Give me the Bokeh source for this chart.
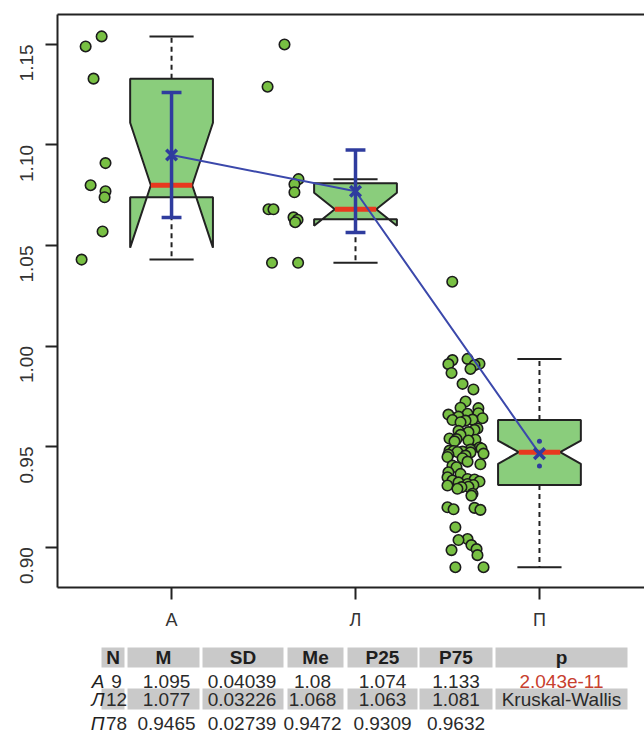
import math

from bokeh.core.properties import value
from bokeh.embed import file_html
from bokeh.layouts import column
from bokeh.models import FixedTicker, LinearAxis, PrintfTickFormatter, Range1d
from bokeh.plotting import figure
from bokeh.resources import INLINE

# ---- summary statistics per group ----
groups = ["А", "Л", "П"]
n_obs = [9, 12, 78]
mean_vals = [1.095, 1.077, 0.9465]
sd_vals = [0.04039, 0.03226, 0.02739]
median_vals = [1.08, 1.068, 0.9472]
p25_vals = [1.074, 1.063, 0.9309]
p75_vals = [1.133, 1.081, 0.9632]
t_crit = [2.306, 2.201, 1.991]  # two-sided 95% Student quantiles, df = n - 1
p_value = "2.043e-11"
test_name = "Kruskal-Wallis"

y_ticks = [0.90, 0.95, 1.00, 1.05, 1.10, 1.15]

# ---- individual observations (value, horizontal jitter) ----
a_vals = [1.154, 1.149, 1.133, 1.091, 1.080, 1.077, 1.074, 1.057, 1.043]
a_jit = [-0.380, -0.467, -0.424, -0.359, -0.440, -0.359, -0.364, -0.375, -0.489]

l_vals = [1.150, 1.129, 1.083, 1.0805, 1.0765, 1.068, 1.068, 1.064, 1.0628,
          1.0616, 1.0414, 1.0414]
l_jit = [-0.386, -0.478, -0.310, -0.332, -0.332, -0.473, -0.446, -0.337, -0.315,
         -0.328, -0.454, -0.312]

p_vals = [1.032,
          0.9936, 0.9930, 0.9912, 0.9910, 0.9905, 0.9886, 0.9866,
          0.9812, 0.9784,
          0.9724, 0.9693, 0.9691,
          0.9666, 0.9663, 0.9659, 0.9649, 0.9641, 0.9634, 0.9632,
          0.9629, 0.9621,
          0.9590, 0.9583, 0.9578, 0.9572, 0.9558, 0.9540, 0.9537, 0.9534, 0.9530, 0.9526,
          0.9495, 0.9490, 0.9485, 0.9480, 0.9478, 0.9475, 0.9473, 0.9471, 0.9465, 0.9460, 0.9455,
          0.9448, 0.9442, 0.9425, 0.9412, 0.9405,
          0.9397, 0.9372, 0.9364, 0.9347, 0.9339, 0.9336, 0.9331, 0.9326, 0.9322, 0.9314,
          0.9309, 0.9306, 0.9300, 0.9298, 0.9290, 0.9265, 0.9256,
          0.9198, 0.9195, 0.9188, 0.9185,
          0.9099,
          0.9040, 0.9035, 0.9010, 0.8990, 0.8985, 0.8960,
          0.8900, 0.8900]
p_jit = [-0.474,
         -0.391, -0.473, -0.326, -0.495, -0.353, -0.375, -0.478,
         -0.418, -0.359,
         -0.402, -0.429, -0.332,
         -0.332, -0.391, -0.495, -0.440, -0.310, -0.364, -0.473,
         -0.402, -0.429,
         -0.337, -0.353, -0.440, -0.386, -0.429, -0.489, -0.451, -0.348, -0.386, -0.462,
         -0.326, -0.315, -0.375, -0.489, -0.467, -0.418, -0.446, -0.375, -0.304, -0.495, -0.402,
         -0.500, -0.418, -0.391, -0.321, -0.473,
         -0.451, -0.495, -0.429, -0.500, -0.391, -0.353, -0.473, -0.326, -0.440, -0.391,
         -0.359, -0.500, -0.386, -0.424, -0.446, -0.364, -0.370,
         -0.500, -0.353, -0.467, -0.321,
         -0.457,
         -0.391, -0.440, -0.370, -0.342, -0.478, -0.337,
         -0.457, -0.304]

observations = [(a_vals, a_jit), (l_vals, l_jit), (p_vals, p_jit)]

# ---- styling ----
FONT = "Liberation Sans"
INK = "#222222"
BOX_FILL = "#8acd7c"
POINT_FILL = "#78c043"
MEDIAN_RED = "#e8391f"
BLUE = "#2f3c9e"
LINE_BLUE = "#3b48ab"
HALF_BOX = 0.225
HALF_CAP = 0.12
HALF_ERR_CAP = 0.054

p = figure(width=644, height=635,
           x_range=Range1d(0.38, 3.571), y_range=Range1d(0.8799, 1.1649),
           output_backend="svg", toolbar_location=None,
           x_axis_location=None, y_axis_location=None,
           min_border_left=57, min_border_right=0,
           min_border_top=14, min_border_bottom=48)
p.grid.visible = False
p.outline_line_color = None
p.background_fill_color = "white"
p.border_fill_color = "white"

# left axis
ya = LinearAxis(ticker=FixedTicker(ticks=y_ticks),
                formatter=PrintfTickFormatter(format="%.2f"))
ya.axis_line_color = INK
ya.axis_line_width = 2
ya.major_tick_line_color = INK
ya.major_tick_line_width = 2
ya.major_tick_out = 12
ya.major_tick_in = 0
ya.minor_tick_line_color = None
ya.major_label_orientation = math.pi / 2
ya.major_label_text_font = FONT
ya.major_label_text_font_size = "19px"
ya.major_label_text_color = "#333333"
ya.major_label_standoff = 19
p.add_layout(ya, "left")

# bottom axis with group names
xa = LinearAxis(ticker=FixedTicker(ticks=[1, 2, 3]),
                major_label_overrides={i + 1: g for i, g in enumerate(groups)})
xa.axis_line_color = INK
xa.axis_line_width = 2
xa.major_tick_line_color = INK
xa.major_tick_line_width = 2
xa.major_tick_out = 12
xa.major_tick_in = 0
xa.minor_tick_line_color = None
xa.major_label_text_font = FONT
xa.major_label_text_font_size = "18px"
xa.major_label_text_color = "#333333"
xa.major_label_standoff = 10
p.add_layout(xa, "below")

# top frame line
ta = LinearAxis(ticker=FixedTicker(ticks=[]))
ta.axis_line_color = INK
ta.axis_line_width = 2
ta.major_tick_line_color = None
ta.minor_tick_line_color = None
ta.major_label_text_font_size = "0px"
p.add_layout(ta, "above")

# jittered observations
for i, (vals, jit) in enumerate(observations):
    p.scatter([i + 1 + j for j in jit], vals, size=10.5, fill_color=POINT_FILL,
              line_color="#1c1c1c", line_width=1.6)

# notched boxes with whiskers
box_xs, box_ys = [], []
wx0, wx1, wy0, wy1 = [], [], [], []
cx0, cx1, cy = [], [], []
mx0, mx1, my = [], [], []
for i, (vals, _) in enumerate(observations):
    x = i + 1
    q1, q3, me, n = p25_vals[i], p75_vals[i], median_vals[i], n_obs[i]
    iqr = q3 - q1
    notch = 1.58 * iqr / math.sqrt(n)
    lo, hi = me - notch, me + notch
    hw, nw = HALF_BOX, HALF_BOX / 2
    box_xs.append([x - hw, x + hw, x + hw, x + nw, x + hw, x + hw, x - hw, x - hw, x - nw, x - hw])
    box_ys.append([q1, q1, lo, me, hi, q3, q3, hi, me, lo])
    w_hi = max(v for v in vals if v <= q3 + 1.5 * iqr)
    w_lo = min(v for v in vals if v >= q1 - 1.5 * iqr)
    wx0 += [x, x]; wx1 += [x, x]
    wy0 += [q3, q1]; wy1 += [w_hi, w_lo]
    cx0 += [x - HALF_CAP, x - HALF_CAP]; cx1 += [x + HALF_CAP, x + HALF_CAP]
    cy += [w_hi, w_lo]
    mx0.append(x - nw); mx1.append(x + nw); my.append(me)

p.segment(wx0, wy0, wx1, wy1, line_color=INK, line_width=2, line_dash="5 4")
p.patches(box_xs, box_ys, fill_color=BOX_FILL, line_color=INK, line_width=2)
p.segment(cx0, cy, cx1, cy, line_color=INK, line_width=2)
p.segment(mx0, my, mx1, my, line_color=MEDIAN_RED, line_width=5)

# means joined by a line, with 95% confidence intervals
xs = [1, 2, 3]
p.line(xs, mean_vals, line_color=LINE_BLUE, line_width=2)
ex, elo, ehi = [], [], []
dot_x, dot_y = [], []
for i in range(3):
    half = t_crit[i] * sd_vals[i] / math.sqrt(n_obs[i])
    lo, hi = mean_vals[i] - half, mean_vals[i] + half
    if half > 0.01:
        ex.append(i + 1); elo.append(lo); ehi.append(hi)
    else:
        dot_x += [i + 1, i + 1]; dot_y += [lo, hi]
p.segment(ex, elo, ex, ehi, line_color=BLUE, line_width=3.5)
p.segment([x - HALF_ERR_CAP for x in ex], ehi, [x + HALF_ERR_CAP for x in ex], ehi,
          line_color=BLUE, line_width=3.5)
p.segment([x - HALF_ERR_CAP for x in ex], elo, [x + HALF_ERR_CAP for x in ex], elo,
          line_color=BLUE, line_width=3.5)
p.scatter(dot_x, dot_y, size=5, fill_color=BLUE, line_color=None)
p.scatter(xs, mean_vals, marker="x", size=15, line_color=BLUE, line_width=3.5)

# ---- summary table (coordinates in page pixels; frame aligned with the plot above) ----
t = figure(width=644, height=107, x_range=Range1d(57, 644), y_range=Range1d(107, 0),
           output_backend="svg", toolbar_location=None,
           x_axis_location=None, y_axis_location=None,
           min_border_left=57, min_border_right=0, min_border_top=0, min_border_bottom=0)
t.grid.visible = False
t.outline_line_color = None

headers = ["N", "M", "SD", "Me", "P25", "P75", "p"]
col_left = [101, 127, 202, 287, 347, 419, 495]
col_right = [124, 199, 283, 343, 417, 492, 627]
col_mid = [(a + b) / 2 for a, b in zip(col_left, col_right)]
val_mid = [116, 166, 241.5, 312, 382, 455.5, 561]
GRAY = "#c9c9c9"
TSIZE = "19px"

t.quad(left=col_left, right=col_right, top=[12] * 7, bottom=[32] * 7,
       fill_color=GRAY, line_color=None)
t.quad(left=col_left, right=col_right, top=[53] * 7, bottom=[74] * 7,
       fill_color=GRAY, line_color=None)

row_y = [46, 63.5, 88]
t.text(col_mid, [22] * 7, text=headers, text_align="center", text_baseline="middle",
       text_font=value(FONT), text_font_size=TSIZE, text_font_style="bold",
       text_color="#1e1e1e")
t.text([104] * 3, row_y, text=groups, text_align="right", text_baseline="middle",
       text_font=value(FONT), text_font_size=TSIZE, text_font_style="italic",
       text_color="#1e1e1e")

fmt = lambda v: "{:.4g}".format(v)
cells_x, cells_y, cells_t = [], [], []
for r in range(3):
    row = [str(n_obs[r]), fmt(mean_vals[r]), fmt(sd_vals[r]), fmt(median_vals[r]),
           fmt(p25_vals[r]), fmt(p75_vals[r])]
    for c, s in enumerate(row):
        cells_x.append(val_mid[c]); cells_y.append(row_y[r]); cells_t.append(s)
t.text(cells_x, cells_y, text=cells_t, text_align="center", text_baseline="middle",
       text_font=value(FONT), text_font_size=TSIZE, text_color="#2a2a2a")
t.text([val_mid[6]], [row_y[0]], text=[p_value], text_align="center", text_baseline="middle",
       text_font=value(FONT), text_font_size=TSIZE, text_color="#c8402e")
t.text([val_mid[6]], [row_y[1]], text=[test_name], text_align="center", text_baseline="middle",
       text_font=value(FONT), text_font_size=TSIZE, text_color="#2a2a2a")

layout = column(p, t, spacing=0)
open("out.html", "w").write(file_html(layout, INLINE))
